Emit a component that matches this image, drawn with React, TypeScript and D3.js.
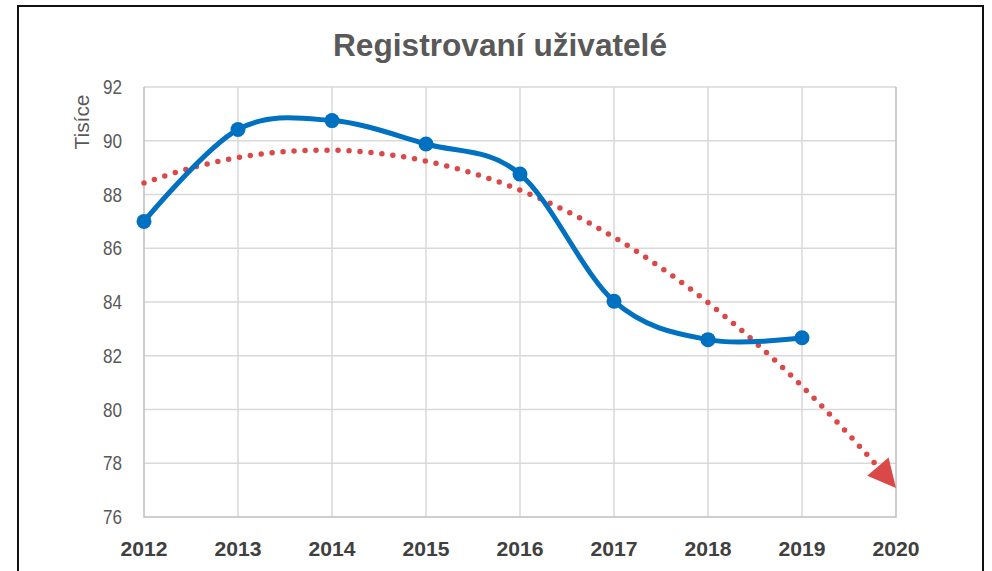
import React, { useEffect, useRef } from 'react';
import * as d3 from 'd3';

const years = [2012, 2013, 2014, 2015, 2016, 2017, 2018, 2019];
const users = [87.0, 90.42, 90.75, 89.88, 88.76, 84.03, 82.6, 82.67];
const axisYears = [2012, 2013, 2014, 2015, 2016, 2017, 2018, 2019, 2020];
const yTicks = [76, 78, 80, 82, 84, 86, 88, 90, 92];
const forecastYears = 1;

// quadratic least squares, like the Excel polynomial trendline
const fitQuadratic = (xs: number[], ys: number[]) => {
  const n = xs.length;
  const S = (f: (x: number, y: number) => number) => d3.sum(xs, (x, i) => f(x, ys[i]));
  const m = [
    [n, S(x => x), S(x => x * x)],
    [S(x => x), S(x => x * x), S(x => x ** 3)],
    [S(x => x * x), S(x => x ** 3), S(x => x ** 4)],
  ];
  const v = [S((x, y) => y), S((x, y) => x * y), S((x, y) => x * x * y)];
  const det = (a: number[][]) =>
    a[0][0] * (a[1][1] * a[2][2] - a[1][2] * a[2][1]) -
    a[0][1] * (a[1][0] * a[2][2] - a[1][2] * a[2][0]) +
    a[0][2] * (a[1][0] * a[2][1] - a[1][1] * a[2][0]);
  const D = det(m);
  const coef = [0, 1, 2].map(k => det(m.map((row, i) => row.map((c, j) => (j === k ? v[i] : c)))) / D);
  return (x: number) => coef[0] + coef[1] * x + coef[2] * x * x;
};

const App = () => {
  const ref = useRef<SVGSVGElement>(null);

  useEffect(() => {
    document.body.style.margin = '0';
    const svg = d3.select(ref.current);
    svg.selectAll('*').remove();

    const x = d3.scaleLinear().domain([2012, 2020]).range([144, 896]);
    const y = d3.scaleLinear().domain([76, 92]).range([517, 87]);
    const font = '"Liberation Sans", Arial, sans-serif';

    // outer frame
    svg.append('rect').attr('x', 18).attr('y', 6).attr('width', 965).attr('height', 600)
      .attr('fill', '#fff').attr('stroke', '#111').attr('stroke-width', 2);

    svg.append('text').attr('x', 500).attr('y', 56).attr('text-anchor', 'middle')
      .attr('font-family', font).attr('font-weight', 'bold').attr('font-size', 31)
      .attr('fill', '#595959').attr('textLength', 334).attr('lengthAdjust', 'spacingAndGlyphs')
      .text('Registrovaní uživatelé');

    // grid
    const grid = svg.append('g');
    grid.selectAll('line.h').data(yTicks.slice(1)).enter().append('line')
      .attr('x1', x(2012)).attr('x2', x(2020)).attr('y1', d => y(d)).attr('y2', d => y(d))
      .attr('stroke', '#d9d9d9').attr('stroke-width', 1.5);
    grid.selectAll('line.v').data(axisYears.slice(1, -1)).enter().append('line')
      .attr('y1', y(76)).attr('y2', y(92)).attr('x1', d => x(d)).attr('x2', d => x(d))
      .attr('stroke', '#d9d9d9').attr('stroke-width', 1.5);
    svg.append('path')
      .attr('d', `M${x(2012)},${y(92)}V${y(76)}H${x(2020)}V${y(92)}`)
      .attr('fill', 'none').attr('stroke', '#bfbfbf').attr('stroke-width', 1.5);

    // tick labels
    svg.selectAll('text.yt').data(yTicks).enter().append('text')
      .attr('x', 122).attr('y', d => y(d) + 7).attr('text-anchor', 'end')
      .attr('font-family', font).attr('font-size', 20).attr('fill', '#595959')
      .attr('textLength', 19).attr('lengthAdjust', 'spacingAndGlyphs')
      .text(d => d);
    svg.selectAll('text.xt').data(axisYears).enter().append('text')
      .attr('x', d => x(d)).attr('y', 556).attr('text-anchor', 'middle')
      .attr('font-family', font).attr('font-weight', 'bold').attr('font-size', 21).attr('fill', '#404040')
      .attr('textLength', 47).attr('lengthAdjust', 'spacingAndGlyphs')
      .text(d => d);
    svg.append('text').attr('transform', 'translate(89,122) rotate(-90)').attr('text-anchor', 'middle')
      .attr('font-family', font).attr('font-size', 21).attr('fill', '#595959')
      .attr('textLength', 55).attr('lengthAdjust', 'spacingAndGlyphs')
      .text('Tisíce');

    // trendline
    const idx = years.map((_, i) => i + 1);
    const f = fitQuadratic(idx, users);
    const end = years.length + forecastYears;
    const tip: [number, number] = [x(years[0] + end - 1), y(f(end))];
    const h = 0.001;
    const back: [number, number] = [x(years[0] + end - 1 - h), y(f(end - h))];
    const ang = Math.atan2(tip[1] - back[1], tip[0] - back[0]);
    const len = 28;
    const half = 14;
    const baseMid: [number, number] = [tip[0] - len * Math.cos(ang), tip[1] - len * Math.sin(ang)];
    const trendPts: [number, number][] = d3.range(1, end + 0.0001, 0.05)
      .map(t => [x(years[0] + t - 1), y(f(t))] as [number, number])
      .filter(p => p[0] <= baseMid[0] + 2);
    svg.append('path').attr('d', d3.line()(trendPts))
      .attr('fill', 'none').attr('stroke', '#db4848').attr('stroke-width', 5.5)
      .attr('stroke-linecap', 'round').attr('stroke-dasharray', '0 11');
    const px = -Math.sin(ang), py = Math.cos(ang);
    svg.append('path')
      .attr('d', `M${tip[0]},${tip[1]}L${baseMid[0] + half * px},${baseMid[1] + half * py}L${baseMid[0] - half * px},${baseMid[1] - half * py}Z`)
      .attr('fill', '#db4848');

    // data line
    const line = d3.line<number>().x((d, i) => x(years[i])).y(d => y(d)).curve(d3.curveCardinal.tension(0));
    svg.append('path').attr('d', line(users)).attr('fill', 'none')
      .attr('stroke', '#0070c0').attr('stroke-width', 5);
    svg.selectAll('circle.pt').data(users).enter().append('circle')
      .attr('cx', (d, i) => x(years[i])).attr('cy', d => y(d)).attr('r', 7.5)
      .attr('fill', '#0070c0');
  }, []);

  return <svg ref={ref} width={992} height={571} style={{ display: 'block' }} />;
};

export default App;
